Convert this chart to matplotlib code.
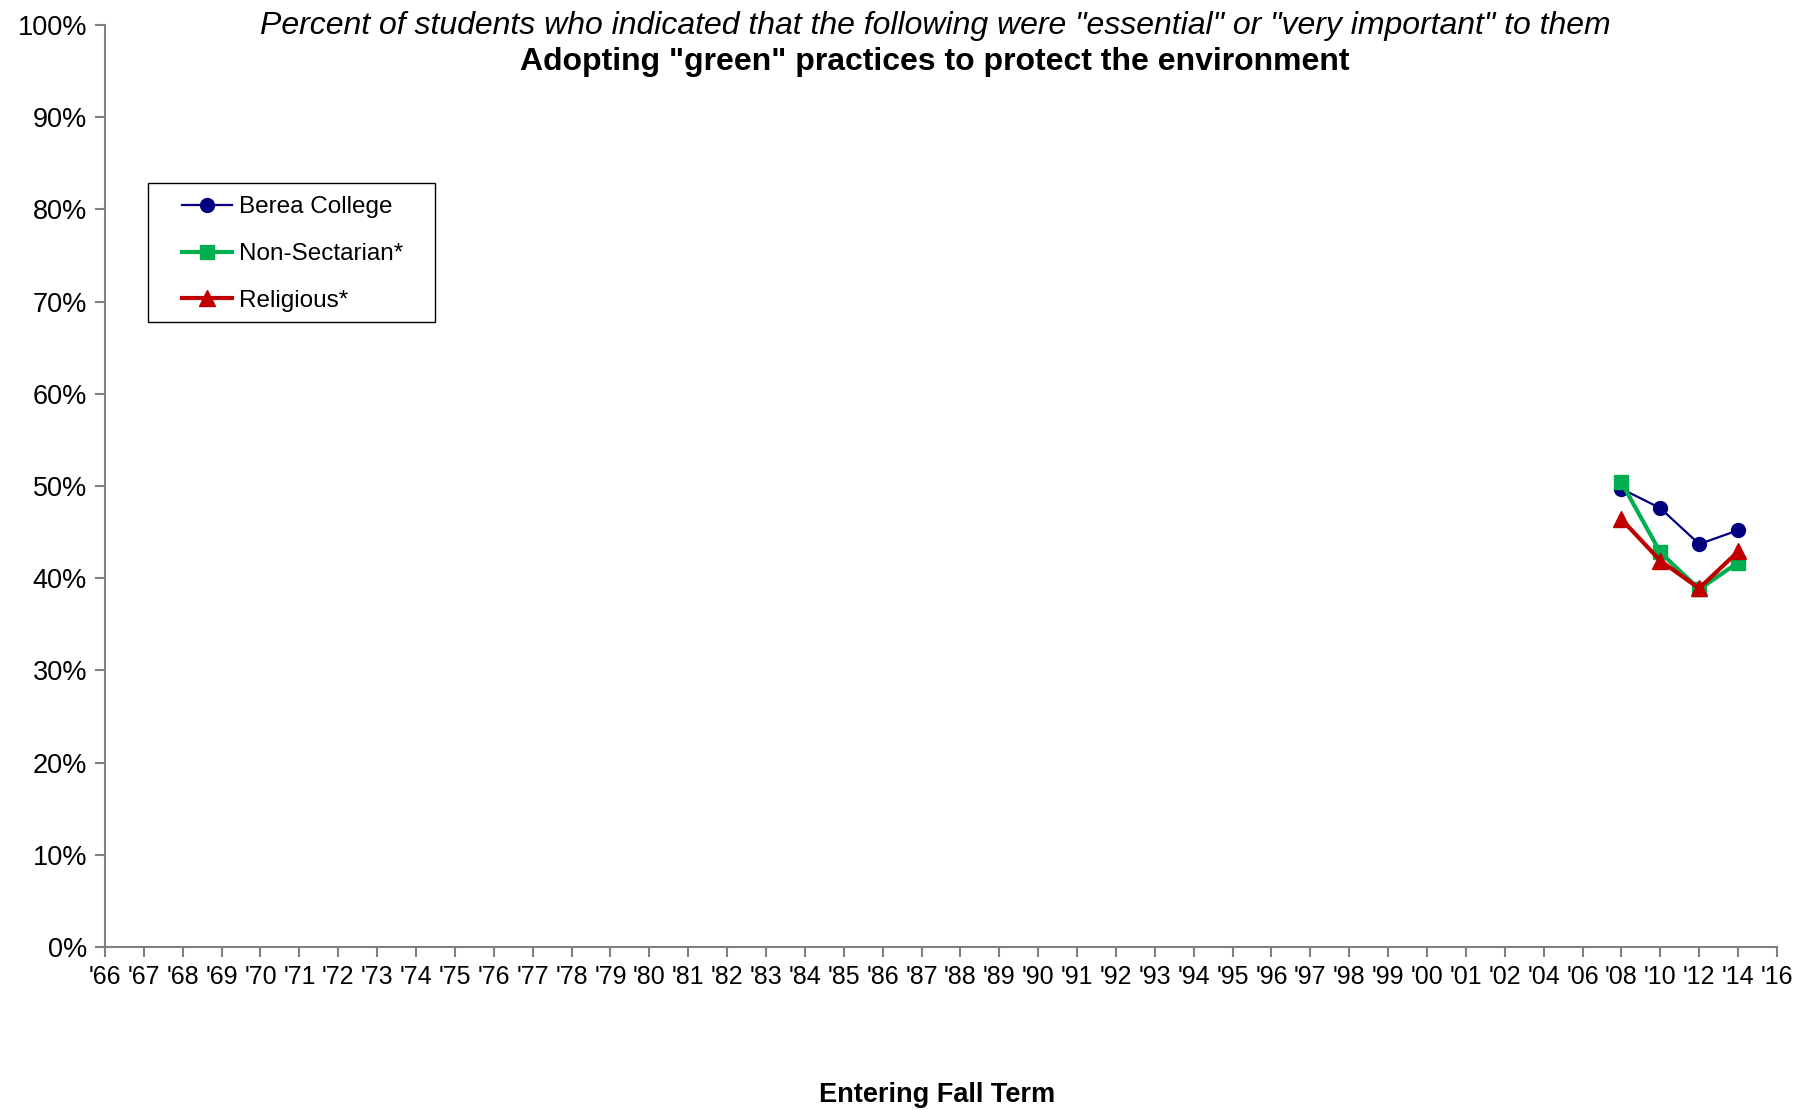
import numpy as np
import matplotlib.pyplot as plt
from matplotlib.patches import Rectangle

plt.rcParams['font.family'] = ['Liberation Sans', 'DejaVu Sans']

# x categories (entering fall term)
years = ["'%02d" % (y % 100) for y in range(1966, 2003)] + ["'04", "'06", "'08", "'10", "'12", "'14", "'16"]

# data only exists for '08 - '14
data_years = ["'08", "'10", "'12", "'14"]
berea = [49.7, 47.6, 43.7, 45.2]
non_sectarian = [50.4, 42.8, 38.8, 41.7]
religious = [46.4, 41.9, 38.9, 42.9]

xpos = [years.index(y) for y in data_years]

fig = plt.figure(figsize=(18.16, 11.10), dpi=100)
ax = fig.add_axes([0.0578, 0.1468, 0.9207, 0.8307])

ax.plot(xpos, berea, color='#000080', linewidth=1.6, marker='o', markersize=10,
        label='Berea College')
ax.plot(xpos, non_sectarian, color='#00B050', linewidth=3, marker='s', markersize=10,
        label='Non-Sectarian*')
ax.plot(xpos, religious, color='#C00000', linewidth=3, marker='^', markersize=11,
        label='Religious*')

ax.set_xlim(0, len(years) - 1)
ax.set_ylim(0, 100)
ax.set_xticks(range(len(years)))
ax.set_xticklabels(years, fontsize=18)
ax.set_yticks(np.arange(0, 101, 10))
ax.set_yticklabels(['%d%%' % v for v in range(0, 101, 10)], fontsize=19.5)

for s in ['top', 'right']:
    ax.spines[s].set_visible(False)
for s in ['left', 'bottom']:
    ax.spines[s].set_color('#808080')
    ax.spines[s].set_linewidth(1.5)
ax.tick_params(axis='both', direction='out', length=7, width=1.5, color='#808080', pad=6)

# legend without its own frame; the box is drawn separately to get Excel-like padding
leg = ax.legend(loc='upper left', bbox_to_anchor=(0.0459, 0.8142), fontsize=17.5,
                frameon=False, borderpad=0, borderaxespad=0,
                labelspacing=1.02, handlelength=2.05, handletextpad=0.31)
ax.add_patch(Rectangle((0.0258, 0.6779), 0.1718, 0.1507, transform=ax.transAxes,
                       fill=False, edgecolor='black', linewidth=1.0, clip_on=False))

fig.text(0.515, 0.977, 'Percent of students who indicated that the following were "essential" or "very important" to them',
         ha='center', va='center', fontsize=23, style='italic')
fig.text(0.515, 0.944, 'Adopting "green" practices to protect the environment',
         ha='center', va='center', fontsize=23, fontweight='bold')
fig.text(0.516, 0.0135, 'Entering Fall Term', ha='center', va='center', fontsize=19.5, fontweight='bold')

plt.savefig('out.png', dpi=100)
